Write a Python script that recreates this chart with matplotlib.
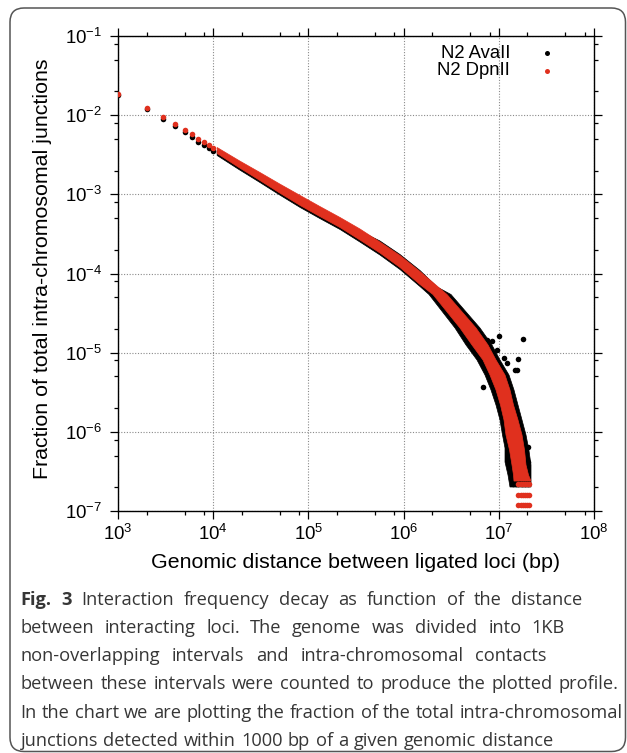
import matplotlib
matplotlib.use('Agg')
import numpy as np
import matplotlib.pyplot as plt
from matplotlib.ticker import LogLocator, NullFormatter, FixedLocator
from matplotlib.patches import FancyBboxPatch
from matplotlib.transforms import IdentityTransform

plt.rcParams['font.family'] = ['Liberation Sans', 'DejaVu Sans']
plt.rcParams['mathtext.default'] = 'regular'
plt.rcParams['axes.unicode_minus'] = False

# ---------------- data ----------------
series_names = ['N2 AvaII', 'N2 DpnII']

# isolated 1 kb bins at short distances
disc_x = [1000, 2000, 3000, 4000, 5000, 6000, 7000, 8000, 9000, 10000]
red_disc_y = [0.0183, 0.01245, 0.00948, 0.0078, 0.00656, 0.00573, 0.0050, 0.00454, 0.00416, 0.00382]
black_disc_y = [0.0182, 0.01186, 0.00904, 0.0073, 0.00607, 0.00525, 0.00463, 0.00416, 0.00385, 0.00352]

# dense part: upper/right and lower/left edge of each point cloud
red_up_x = [11000, 19000, 31000, 50000, 82000, 132000, 215000, 348000, 565000, 917000,
            1.487e6, 2.857e6, 5.761e6, 7.702e6, 9.346e6, 1.162e7, 1.311e7, 1.427e7,
            1.591e7, 1.753e7, 1.862e7, 1.931e7, 2.051e7, 2.179e7]
red_up_y = [3.905e-3, 2.637e-3, 1.887e-3, 1.351e-3, 9.67e-4, 7.02e-4, 5.10e-4, 3.65e-4, 2.50e-4, 1.689e-4,
            1.060e-4, 5.43e-5, 2.05e-5, 1.250e-5, 8.08e-6, 5.22e-6, 3.38e-6, 2.18e-6,
            1.412e-6, 9.12e-7, 5.90e-7, 3.81e-7, 2.85e-7, 2.39e-7]
red_lo_x = [11000, 19000, 31000, 50000, 82000, 132000, 215000, 348000, 565000, 917000,
            1.487e6, 2.036e6, 3.912e6, 5.230e6, 6.823e6, 8.083e6, 9.346e6, 1.042e7,
            1.134e7, 1.190e7, 1.296e7, 1.376e7, 1.427e7, 1.444e7]
red_lo_y = [3.280e-3, 2.151e-3, 1.495e-3, 1.039e-3, 7.23e-4, 5.25e-4, 3.81e-4, 2.65e-4, 1.816e-4, 1.191e-4,
            7.26e-5, 5.43e-5, 2.05e-5, 1.250e-5, 8.08e-6, 5.22e-6, 3.38e-6, 2.18e-6,
            1.412e-6, 9.12e-7, 5.90e-7, 3.81e-7, 2.85e-7, 2.39e-7]

black_up_x = [11000, 19000, 31000, 50000, 82000, 132000, 215000, 348000, 565000, 917000,
              1.487e6, 2.250e6, 3.147e6, 6.344e6, 8.484e6, 1.0294e7, 1.280e7, 1.444e7,
              1.591e7, 1.753e7, 1.931e7, 2.07e7, 2.179e7, 2.179e7, 2.179e7]
black_up_y = [3.579e-3, 2.381e-3, 1.680e-3, 1.185e-3, 8.36e-4, 6.07e-4, 4.41e-4, 3.44e-4, 2.574e-4, 1.738e-4,
              1.091e-4, 6.75e-5, 5.43e-5, 2.05e-5, 1.250e-5, 8.08e-6, 5.22e-6, 3.38e-6,
              2.18e-6, 1.412e-6, 9.12e-7, 5.90e-7, 3.81e-7, 2.39e-7, 2.01e-7]
black_lo_x = [11000, 19000, 31000, 50000, 82000, 132000, 215000, 348000, 565000, 917000,
              1.487e6, 1.848e6, 3.466e6, 4.523e6, 5.902e6, 7.161e6, 8.282e6, 9.346e6,
              1.0294e7, 1.094e7, 1.162e7, 1.162e7, 1.249e7, 1.311e7]
black_lo_y = [3.095e-3, 2.029e-3, 1.411e-3, 9.81e-4, 6.82e-4, 4.95e-4, 3.60e-4, 2.50e-4, 1.713e-4, 1.124e-4,
              6.85e-5, 5.43e-5, 2.05e-5, 1.250e-5, 8.08e-6, 5.22e-6, 3.38e-6, 2.18e-6,
              1.412e-6, 9.12e-7, 6.25e-7, 4.16e-7, 2.85e-7, 2.01e-7]

# scattered AvaII bins in the tail
black_out_x = [1.782e7, 1.602e7, 1.005e7, 6.874e6, 8.42e6, 1.143e7, 1.480e7,
               3.912e6, 5.40e6, 7.46e6, 9.50e6, 1.210e7, 1.542e7]
black_out_y = [1.476e-5, 8.32e-6, 1.624e-5, 3.72e-6, 1.417e-5, 8.49e-6, 6.04e-6,
               3.46e-5, 2.13e-5, 1.446e-5, 1.081e-5, 7.34e-6, 6.04e-6]

# rows of equal (low-count) values at the far end
black_row_y = [6.49e-7, 4.20e-7]
black_row_x = [1.25e7, 1.35e7, 1.5e7, 1.65e7, 1.8e7, 1.95e7, 2.05e7]
black_row3_y = 2.17e-7
black_row3_x = [1.41e7, 1.5e7, 1.6e7, 1.75e7, 1.9e7, 2.05e7]
red_row_y = [2.18e-7, 1.59e-7, 1.19e-7]
red_row_x = [1.61e7, 1.7e7, 1.8e7, 1.9e7, 2.0e7, 2.07e7]

x_ticks = [1e3, 1e4, 1e5, 1e6, 1e7, 1e8]
x_ticklabels = [r'$10^{3}$', r'$10^{4}$', r'$10^{5}$', r'$10^{6}$', r'$10^{7}$', r'$10^{8}$']
y_ticks = [1e-7, 1e-6, 1e-5, 1e-4, 1e-3, 1e-2, 1e-1]
y_ticklabels = [r'$10^{-7}$', r'$10^{-6}$', r'$10^{-5}$', r'$10^{-4}$', r'$10^{-3}$', r'$10^{-2}$', r'$10^{-1}$']

caption_lines = [
    'Fig. 3 Interaction frequency decay as function of the distance',
    'between interacting loci. The genome was divided into 1KB',
    'non-overlapping intervals and intra-chromosomal contacts',
    'between these intervals were counted to produce the plotted profile.',
    'In the chart we are plotting the fraction of the total intra-chromosomal',
    'junctions detected within 1000 bp of a given genomic distance',
]
caption_bold_words = 2          # "Fig." and "3"
caption_right_px = [582, 565, 547, 619, 623, 553]   # line ends in the reference

# ---------------- styling ----------------
RED = '#e0301e'
BLACK = '#000000'
MS = 16

W, H = 627, 753
fig = plt.figure(figsize=(W / 100, H / 100), dpi=100)
ax = fig.add_axes([118 / W, 1 - 511 / H, 476 / W, 475 / H])
ax.set_xscale('log')
ax.set_yscale('log')
ax.set_xlim(1e3, 1e8)
ax.set_ylim(1e-7, 1e-1)

# black (AvaII) first
ax.fill(np.concatenate([black_up_x, black_lo_x[::-1]]),
        np.concatenate([black_up_y, black_lo_y[::-1]]),
        color=BLACK, lw=0.5, zorder=2)
ax.scatter(disc_x, black_disc_y, s=MS, color=BLACK, lw=0, zorder=2)
ax.scatter(black_out_x, black_out_y, s=MS, color=BLACK, lw=0, zorder=2)
for yv in black_row_y:
    ax.scatter(black_row_x, [yv] * len(black_row_x), s=MS, color=BLACK, lw=0, zorder=2)
ax.scatter(black_row3_x, [black_row3_y] * len(black_row3_x), s=MS, color=BLACK, lw=0, zorder=2)

# red (DpnII) on top
ax.fill(np.concatenate([red_up_x, red_lo_x[::-1]]),
        np.concatenate([red_up_y, red_lo_y[::-1]]),
        color=RED, lw=0.5, zorder=3)
ax.scatter(disc_x, red_disc_y, s=MS, color=RED, lw=0, zorder=3)
for yv in red_row_y:
    ax.scatter(red_row_x, [yv] * len(red_row_x), s=MS, color=RED, lw=0, zorder=3)

# ticks
ax.xaxis.set_major_locator(FixedLocator(x_ticks))
ax.yaxis.set_major_locator(FixedLocator(y_ticks))
ax.set_xticklabels(x_ticklabels)
ax.set_yticklabels(y_ticklabels)
ax.xaxis.set_minor_locator(LogLocator(base=10, subs=(2, 5, 8), numticks=20))
ax.yaxis.set_minor_locator(LogLocator(base=10, subs=(2, 5, 8), numticks=20))
ax.xaxis.set_minor_formatter(NullFormatter())
ax.yaxis.set_minor_formatter(NullFormatter())
ax.tick_params(which='both', direction='out', top=True, right=True, width=0.9, colors='black')
ax.tick_params(which='major', length=5.5, labelsize=13.4)
ax.tick_params(which='minor', length=2.7)
ax.tick_params(axis='x', which='major', pad=4)
ax.tick_params(axis='y', which='major', pad=6)
for sp in ax.spines.values():
    sp.set_linewidth(1.0)

ax.grid(True, which='major', color='#8a8a8a', linestyle=(0, (1, 1.5)), linewidth=0.8)
ax.set_axisbelow(True)

ax.set_xlabel('Genomic distance between ligated loci (bp)', fontsize=15.4)
ax.set_ylabel('Fraction of total intra-chromosomal junctions', fontsize=15.4)
ax.xaxis.set_label_coords(0.5, 1 - (563 - 36) / 475)
ax.xaxis.label.set_va('center')
ax.yaxis.set_label_coords((43 - 118) / 476, 1 - (269 - 36) / 475)
ax.yaxis.label.set_va('center')

# legend (text right, symbol on the right)
leg_rows = [(series_names[0], BLACK, 53.3), (series_names[1], RED, 70.5)]
for name, col, ypx in leg_rows:
    ya = 1 - (ypx - 36) / 475
    ax.text((510 - 118) / 476, ya, name, transform=ax.transAxes, ha='right', va='center',
            fontsize=13.3)
    ax.plot([(546.7 - 118) / 476], [ya], 'o', color=col, ms=3.6, mew=0,
            transform=ax.transAxes, clip_on=False)

# outer rounded frame
frame = FancyBboxPatch((10, 1.5), 615.5, 743.5, boxstyle='round,pad=0,rounding_size=14',
                       transform=IdentityTransform(), fill=False, edgecolor='#555555',
                       linewidth=1.1)
fig.patches.append(frame)

# caption (justified word placement)
CAP_FS = 13.15
CAP_COL = '#363636'
CAP_FAM = ['Open Sans', 'DejaVu Sans']
cap_left = 20.5
line_y = [600, 628, 656, 684, 713, 741]
renderer = fig.canvas.get_renderer()

def word_width(w, bold):
    t = fig.text(0, 0, w, fontsize=CAP_FS, family=CAP_FAM,
                 fontweight='bold' if bold else 'normal')
    wd = t.get_window_extent(renderer).width
    t.remove()
    return wd

space_w = word_width('a a', False) - 2 * word_width('a', False)
for li, (line, ypx) in enumerate(zip(caption_lines, line_y)):
    words = line.split(' ')
    bolds = [(li == 0 and i < caption_bold_words) for i in range(len(words))]
    widths = [word_width(w, b) for w, b in zip(words, bolds)]
    target = caption_right_px[li]
    gap = space_w
    if target is not None and len(words) > 1:
        gap = max(space_w * 0.8, (target - cap_left - sum(widths)) / (len(words) - 1))
    xpx = cap_left
    for w, b, wd in zip(words, bolds, widths):
        fig.text(xpx / W, 1 - ypx / H, w, fontsize=CAP_FS, family=CAP_FAM,
                 fontweight='bold' if b else 'normal', color=CAP_COL,
                 ha='left', va='center')
        xpx += wd + gap

fig.savefig('out.png', dpi=100)
